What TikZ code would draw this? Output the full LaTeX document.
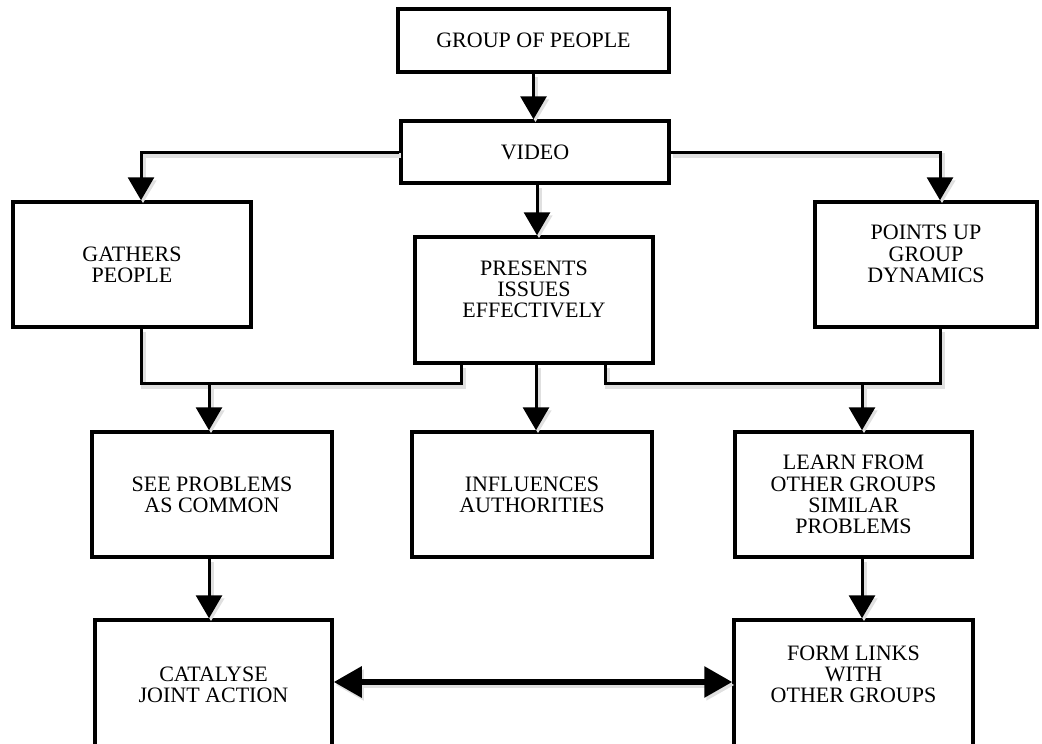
\documentclass[tikz,border=0pt]{standalone}
\usepackage{fontspec}
\setmainfont{Liberation Serif}
\usetikzlibrary{arrows.meta,positioning}

\tikzset{
  box/.style={draw, line width=3.5pt, align=center, inner sep=0pt,
    font={\fontsize{22}{21.3}\selectfont}},
  soft/.style={preaction={draw=black!12, line width=5pt,
    transform canvas={shift={(2pt,-3pt)}}}},
  bus/.style={line width=3pt, soft},
  flow/.style={bus, -{Triangle[width=26pt,length=23pt]}},
  link/.style={line width=6pt, soft,
    {Triangle[width=30pt,length=28pt]}-{Triangle[width=30pt,length=28pt]}},
}

\begin{document}
\begin{tikzpicture}[x=1pt,y=-1pt]
  \useasboundingbox (0,0) rectangle (1042,744);
  % boxes
  \node[box, minimum width=271pt, minimum height=63pt] (group) at (533.5,40.5) {GROUP OF PEOPLE};
  \node[box, minimum width=268pt, minimum height=62pt] (video) at (535,152) {VIDEO};
  \node[box, minimum width=238pt, minimum height=125pt] (gathers) at (132,264.5) {GATHERS\\PEOPLE};
  \node[box, minimum width=238pt, minimum height=126pt] (presents) at (534,300) {PRESENTS\\ISSUES\\EFFECTIVELY\\\mbox{}};
  \node[box, minimum width=222pt, minimum height=125pt] (points) at (926,264.5) {POINTS UP\\GROUP\\DYNAMICS\\\mbox{}};
  \node[box, minimum width=240pt, minimum height=125pt] (see) at (212,494.5) {SEE PROBLEMS\\AS COMMON};
  \node[box, minimum width=240pt, minimum height=125pt] (influences) at (532,494.5) {INFLUENCES\\AUTHORITIES};
  \node[box, minimum width=237pt, minimum height=125pt] (learn) at (853.5,494.5) {LEARN FROM\\OTHER GROUPS\\SIMILAR\\PROBLEMS};
  \node[box, minimum width=237pt, minimum height=130pt] (catalyse) at (213.5,685) {CATALYSE\\JOINT ACTION};
  \node[box, minimum width=239pt, minimum height=130pt] (form) at (853.5,685) {FORM LINKS\\WITH\\OTHER GROUPS\\\mbox{}};
  % junctions
  \coordinate (leftbus) at (209,383);
  \coordinate (rightbus) at (862,383);
  % connectors
  \draw[flow] (group.south) -- (group.south |- video.north);
  \draw[flow] (video.west) -| ([xshift=9pt]gathers.north);
  \draw[flow] (video.east) -| ([xshift=14pt]points.north);
  \draw[flow] ([xshift=2pt]video.south) -- ([xshift=3pt]presents.north);
  \draw[bus] ([xshift=9pt]gathers.south) |- (leftbus) -| ([xshift=-73pt]presents.south);
  \draw[flow] (leftbus) -- (leftbus |- see.north);
  \draw[flow] ([xshift=2pt]presents.south) -- ([xshift=4pt]influences.north);
  \draw[bus] ([xshift=71pt]presents.south) |- (rightbus) -| ([xshift=14pt]points.south);
  \draw[flow] (rightbus) -- (rightbus |- learn.north);
  \draw[flow] ([xshift=-3pt]see.south) -- ([xshift=-4.5pt]catalyse.north);
  \draw[flow] ([xshift=8.5pt]learn.south) -- ([xshift=8.5pt]form.north);
  \draw[link] ([yshift=3pt]catalyse.east) -- ([yshift=3pt]form.west);
\end{tikzpicture}
\end{document}
